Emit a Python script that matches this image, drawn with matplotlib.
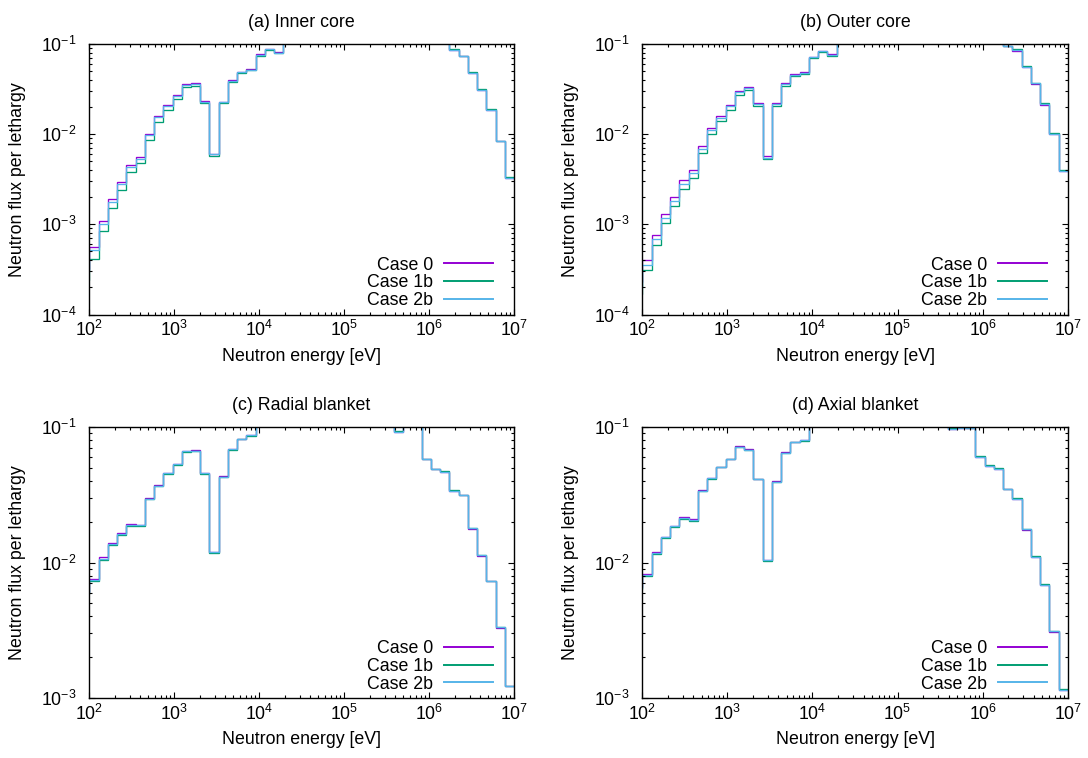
import matplotlib
matplotlib.use('Agg')
import matplotlib.pyplot as plt
from matplotlib.ticker import LogLocator, LogFormatterMathtext, NullFormatter

plt.rcParams['font.family'] = ['Liberation Sans', 'DejaVu Sans']
plt.rcParams['mathtext.fontset'] = 'custom'
plt.rcParams['mathtext.rm'] = 'Liberation Sans'
plt.rcParams['mathtext.it'] = 'Liberation Sans:italic'
plt.rcParams['mathtext.bf'] = 'Liberation Sans:bold'
plt.rcParams['mathtext.default'] = 'regular'

# ---------------- data ----------------
# 70-group (lethargy width 0.25) energy boundaries [eV], from 10 MeV downward
edges = [1.0000e7, 7.7880e6, 6.0653e6, 4.7237e6, 3.6788e6, 2.8650e6, 2.2313e6,
         1.7377e6, 1.3534e6, 1.0540e6, 8.2085e5, 6.3928e5, 4.9787e5, 3.8774e5,
         3.0197e5, 2.3518e5, 1.8316e5, 1.4264e5, 1.1109e5, 8.6517e4, 6.7379e4,
         5.2475e4, 4.0868e4, 3.1828e4, 2.4788e4, 1.9305e4, 1.5034e4, 1.1709e4,
         9.1188e3, 7.1017e3, 5.5308e3, 4.3074e3, 3.3546e3, 2.6126e3, 2.0347e3,
         1.5846e3, 1.2341e3, 9.6112e2, 7.4852e2, 5.8295e2, 4.5400e2, 3.5357e2,
         2.7536e2, 2.1445e2, 1.6702e2, 1.3007e2, 1.0130e2, 7.8893e1]

case_labels = ["Case 0", "Case 1b", "Case 2b"]
case_colors = ["#9400d3", "#009e73", "#56b4e9"]

titles = ["(a) Inner core", "(b) Outer core", "(c) Radial blanket", "(d) Axial blanket"]

# group flux per lethargy, groups 1..47 (high -> low energy)
a_case0 = [3.3e-3, 8.3e-3, 1.86e-2, 3.1e-2, 4.8e-2, 7.3e-2, 8.6e-2,
           0.11, 0.13, 0.15, 0.17, 0.19, 0.20, 0.21, 0.22, 0.22, 0.21, 0.20, 0.19,
           0.18, 0.17, 0.15, 0.14, 0.12, 0.105,
           8.15e-2, 8.87e-2, 7.69e-2, 5.28e-2, 4.93e-2, 3.99e-2, 2.30e-2, 6.10e-3,
           2.35e-2, 3.73e-2, 3.64e-2, 2.70e-2, 2.10e-2, 1.60e-2, 1.007e-2, 5.56e-3,
           4.50e-3, 2.96e-3, 1.89e-3, 1.08e-3, 5.55e-4, 3.2e-4]
a_case1b = [3.35e-3, 8.4e-3, 1.88e-2, 3.13e-2, 4.85e-2, 7.4e-2, 8.7e-2,
            0.11, 0.13, 0.15, 0.17, 0.19, 0.20, 0.21, 0.22, 0.22, 0.21, 0.20, 0.19,
            0.18, 0.17, 0.15, 0.14, 0.12, 0.103,
            7.88e-2, 8.65e-2, 7.43e-2, 5.15e-2, 4.73e-2, 3.83e-2, 2.22e-2, 5.75e-3,
            2.22e-2, 3.45e-2, 3.37e-2, 2.44e-2, 1.86e-2, 1.38e-2, 8.7e-3, 4.73e-3,
            3.76e-3, 2.40e-3, 1.51e-3, 8.35e-4, 4.16e-4, 2.4e-4]
a_case2b = [3.3e-3, 8.3e-3, 1.87e-2, 3.11e-2, 4.82e-2, 7.35e-2, 8.65e-2,
            0.11, 0.13, 0.15, 0.17, 0.19, 0.20, 0.21, 0.22, 0.22, 0.21, 0.20, 0.19,
            0.18, 0.17, 0.15, 0.14, 0.12, 0.104,
            8.0e-2, 8.75e-2, 7.55e-2, 5.2e-2, 4.83e-2, 3.91e-2, 2.26e-2, 5.95e-3,
            2.30e-2, 3.64e-2, 3.55e-2, 2.63e-2, 2.04e-2, 1.54e-2, 9.8e-3, 5.32e-3,
            4.31e-3, 2.79e-3, 1.78e-3, 1.02e-3, 5.24e-4, 3.0e-4]

b_case0 = [3.89e-3, 1.0e-2, 2.13e-2, 3.58e-2, 5.52e-2, 8.43e-2, 9.4e-2,
           0.105, 0.12, 0.14, 0.16, 0.18, 0.19, 0.20, 0.21, 0.21, 0.20, 0.19, 0.18,
           0.17, 0.16, 0.15, 0.13, 0.12, 0.105,
           7.75e-2, 8.43e-2, 7.24e-2, 4.93e-2, 4.61e-2, 3.66e-2, 2.20e-2, 5.70e-3,
           2.24e-2, 3.31e-2, 2.99e-2, 2.13e-2, 1.61e-2, 1.18e-2, 7.36e-3, 3.99e-3,
           3.09e-3, 1.99e-3, 1.31e-3, 7.6e-4, 3.98e-4, 2.3e-4]
b_case1b = [4.0e-3, 1.03e-2, 2.22e-2, 3.73e-2, 5.75e-2, 8.7e-2, 9.6e-2,
            0.105, 0.12, 0.14, 0.16, 0.18, 0.19, 0.20, 0.21, 0.21, 0.20, 0.19, 0.18,
            0.17, 0.16, 0.15, 0.13, 0.12, 0.103,
            7.45e-2, 8.10e-2, 6.95e-2, 4.69e-2, 4.38e-2, 3.45e-2, 2.06e-2, 5.32e-3,
            2.06e-2, 3.10e-2, 2.70e-2, 1.87e-2, 1.39e-2, 1.01e-2, 6.15e-3, 3.28e-3,
            2.46e-3, 1.58e-3, 1.03e-3, 5.94e-4, 3.09e-4, 1.7e-4]
b_case2b = [3.95e-3, 1.01e-2, 2.17e-2, 3.65e-2, 5.62e-2, 8.55e-2, 9.5e-2,
            0.105, 0.12, 0.14, 0.16, 0.18, 0.19, 0.20, 0.21, 0.21, 0.20, 0.19, 0.18,
            0.17, 0.16, 0.15, 0.13, 0.12, 0.104,
            7.60e-2, 8.28e-2, 7.10e-2, 4.82e-2, 4.50e-2, 3.56e-2, 2.14e-2, 5.50e-3,
            2.16e-2, 3.22e-2, 2.90e-2, 2.04e-2, 1.53e-2, 1.12e-2, 6.93e-3, 3.73e-3,
            2.82e-3, 1.81e-3, 1.18e-3, 6.87e-4, 3.54e-4, 2.0e-4]

c_case0 = [1.22e-3, 3.3e-3, 7.25e-3, 1.12e-2, 1.78e-2, 3.13e-2, 3.37e-2, 4.66e-2,
           4.88e-2, 5.76e-2, 0.105, 0.11, 0.092,
           0.12, 0.13, 0.14, 0.15, 0.15, 0.15, 0.14, 0.14, 0.13, 0.13, 0.12, 0.12,
           0.11, 0.11, 0.105,
           8.70e-2, 8.2e-2, 6.86e-2, 4.33e-2, 1.2e-2, 4.58e-2, 6.72e-2, 6.68e-2,
           5.33e-2, 4.58e-2, 3.72e-2, 2.99e-2, 1.90e-2, 1.91e-2, 1.64e-2, 1.39e-2,
           1.09e-2, 7.6e-3, 6.1e-3]
c_case1b = [1.23e-3, 3.35e-3, 7.35e-3, 1.14e-2, 1.80e-2, 3.17e-2, 3.41e-2, 4.70e-2,
            4.92e-2, 5.80e-2, 0.105, 0.11, 0.093,
            0.12, 0.13, 0.14, 0.15, 0.15, 0.15, 0.14, 0.14, 0.13, 0.13, 0.12, 0.12,
            0.11, 0.11, 0.104,
            8.62e-2, 8.1e-2, 6.78e-2, 4.26e-2, 1.17e-2, 4.50e-2, 6.62e-2, 6.58e-2,
            5.24e-2, 4.50e-2, 3.64e-2, 2.92e-2, 1.85e-2, 1.86e-2, 1.60e-2, 1.35e-2,
            1.05e-2, 7.3e-3, 5.9e-3]
c_case2b = [1.23e-3, 3.33e-3, 7.3e-3, 1.13e-2, 1.79e-2, 3.15e-2, 3.39e-2, 4.68e-2,
            4.9e-2, 5.78e-2, 0.105, 0.11, 0.092,
            0.12, 0.13, 0.14, 0.15, 0.15, 0.15, 0.14, 0.14, 0.13, 0.13, 0.12, 0.12,
            0.11, 0.11, 0.104,
            8.68e-2, 8.15e-2, 6.84e-2, 4.3e-2, 1.19e-2, 4.55e-2, 6.69e-2, 6.65e-2,
            5.3e-2, 4.55e-2, 3.69e-2, 2.96e-2, 1.88e-2, 1.89e-2, 1.62e-2, 1.37e-2,
            1.07e-2, 7.43e-3, 6.0e-3]

d_case0 = [1.14e-3, 3.08e-3, 6.8e-3, 1.09e-2, 1.75e-2, 2.94e-2, 3.46e-2, 4.9e-2,
           5.16e-2, 6.0e-2, 0.098, 0.099, 0.097,
           0.11, 0.12, 0.13, 0.14, 0.14, 0.14, 0.14, 0.13, 0.13, 0.12, 0.12, 0.11,
           0.11, 0.105, 0.102,
           8.05e-2, 7.8e-2, 6.5e-2, 3.98e-2, 1.05e-2, 4.16e-2, 6.85e-2, 7.2e-2,
           5.85e-2, 5.1e-2, 4.21e-2, 3.41e-2, 2.08e-2, 2.15e-2, 1.87e-2, 1.55e-2,
           1.19e-2, 8.25e-3, 6.6e-3]
d_case1b = [1.16e-3, 3.12e-3, 6.9e-3, 1.11e-2, 1.77e-2, 2.98e-2, 3.5e-2, 4.96e-2,
            5.22e-2, 6.08e-2, 0.099, 0.0995, 0.098,
            0.11, 0.12, 0.13, 0.14, 0.14, 0.14, 0.14, 0.13, 0.13, 0.12, 0.12, 0.11,
            0.11, 0.105, 0.101,
            7.95e-2, 7.7e-2, 6.43e-2, 3.92e-2, 1.03e-2, 4.1e-2, 6.76e-2, 7.1e-2,
            5.76e-2, 5.03e-2, 4.15e-2, 3.35e-2, 2.04e-2, 2.11e-2, 1.83e-2, 1.51e-2,
            1.15e-2, 7.95e-3, 6.4e-3]
d_case2b = [1.15e-3, 3.1e-3, 6.85e-3, 1.10e-2, 1.76e-2, 2.96e-2, 3.48e-2, 4.93e-2,
            5.19e-2, 6.04e-2, 0.098, 0.099, 0.097,
            0.11, 0.12, 0.13, 0.14, 0.14, 0.14, 0.14, 0.13, 0.13, 0.12, 0.12, 0.11,
            0.11, 0.105, 0.102,
            8.0e-2, 7.75e-2, 6.47e-2, 3.95e-2, 1.04e-2, 4.13e-2, 6.81e-2, 7.16e-2,
            5.81e-2, 5.07e-2, 4.18e-2, 3.38e-2, 2.06e-2, 2.13e-2, 1.85e-2, 1.53e-2,
            1.17e-2, 8.1e-3, 6.5e-3]

panels = [
    (titles[0], [a_case0, a_case1b, a_case2b], (1e-4, 1e-1)),
    (titles[1], [b_case0, b_case1b, b_case2b], (1e-4, 1e-1)),
    (titles[2], [c_case0, c_case1b, c_case2b], (1e-3, 1e-1)),
    (titles[3], [d_case0, d_case1b, d_case2b], (1e-3, 1e-1)),
]

# ---------------- figure ----------------
FS = 12.8
W, H = 1088, 758
fig = plt.figure(figsize=(W / 100, H / 100), dpi=100)


def rect(l, r, t, b):
    return [l / W, 1 - b / H, (r - l) / W, (b - t) / H]


rects = [rect(89, 514, 44, 314.5), rect(642, 1068, 44, 314.5),
         rect(89, 514, 427, 698), rect(642, 1068, 427, 698)]

edges_asc = edges[::-1]

for (title, series, ylim), r in zip(panels, rects):
    ax = fig.add_axes(r)
    ax.set_xscale('log')
    ax.set_yscale('log')
    for vals, lab, col in zip(series, case_labels, case_colors):
        ax.stairs(vals[::-1], edges_asc, baseline=None, color=col, lw=0.95,
                  label=lab)
    ax.set_xlim(1e2, 1e7)
    ax.set_ylim(*ylim)

    ax.xaxis.set_major_locator(LogLocator(base=10, numticks=20))
    ax.xaxis.set_minor_locator(LogLocator(base=10, subs=range(2, 10), numticks=20))
    ax.yaxis.set_major_locator(LogLocator(base=10, numticks=20))
    ax.yaxis.set_minor_locator(LogLocator(base=10, subs=range(2, 10), numticks=20))
    ax.xaxis.set_major_formatter(LogFormatterMathtext())
    ax.yaxis.set_major_formatter(LogFormatterMathtext())
    ax.xaxis.set_minor_formatter(NullFormatter())
    ax.yaxis.set_minor_formatter(NullFormatter())

    ax.tick_params(which='both', direction='in', top=True, right=True,
                   width=0.8, colors='black', labelsize=FS)
    ax.tick_params(which='major', length=4.5)
    ax.tick_params(which='minor', length=2.3)
    ax.tick_params(axis='x', which='major', pad=4)
    ax.tick_params(axis='y', which='major', pad=9)
    for sp in ax.spines.values():
        sp.set_linewidth(1.0)
        sp.set_color('black')

    ax.set_title(title, fontsize=FS, pad=12)
    ax.set_xlabel("Neutron energy [eV]", fontsize=FS)
    ax.xaxis.label.set_va('center')
    ax.xaxis.set_label_coords(0.5, -41.5 / 270.5)
    ax.set_ylabel("Neutron flux per lethargy", fontsize=FS)
    ax.yaxis.label.set_va('center')
    ax.yaxis.set_label_coords(-71 / 425, 0.5)

    leg = ax.legend(loc='lower right', bbox_to_anchor=(0.95, 0.02),
                    frameon=False, markerfirst=False, fontsize=FS,
                    handlelength=2.75, handletextpad=0.6, labelspacing=0.04,
                    borderpad=0, borderaxespad=0)
    for ln in leg.get_lines():
        ln.set_linewidth(1.4)

fig.savefig('out.png', dpi=100)
